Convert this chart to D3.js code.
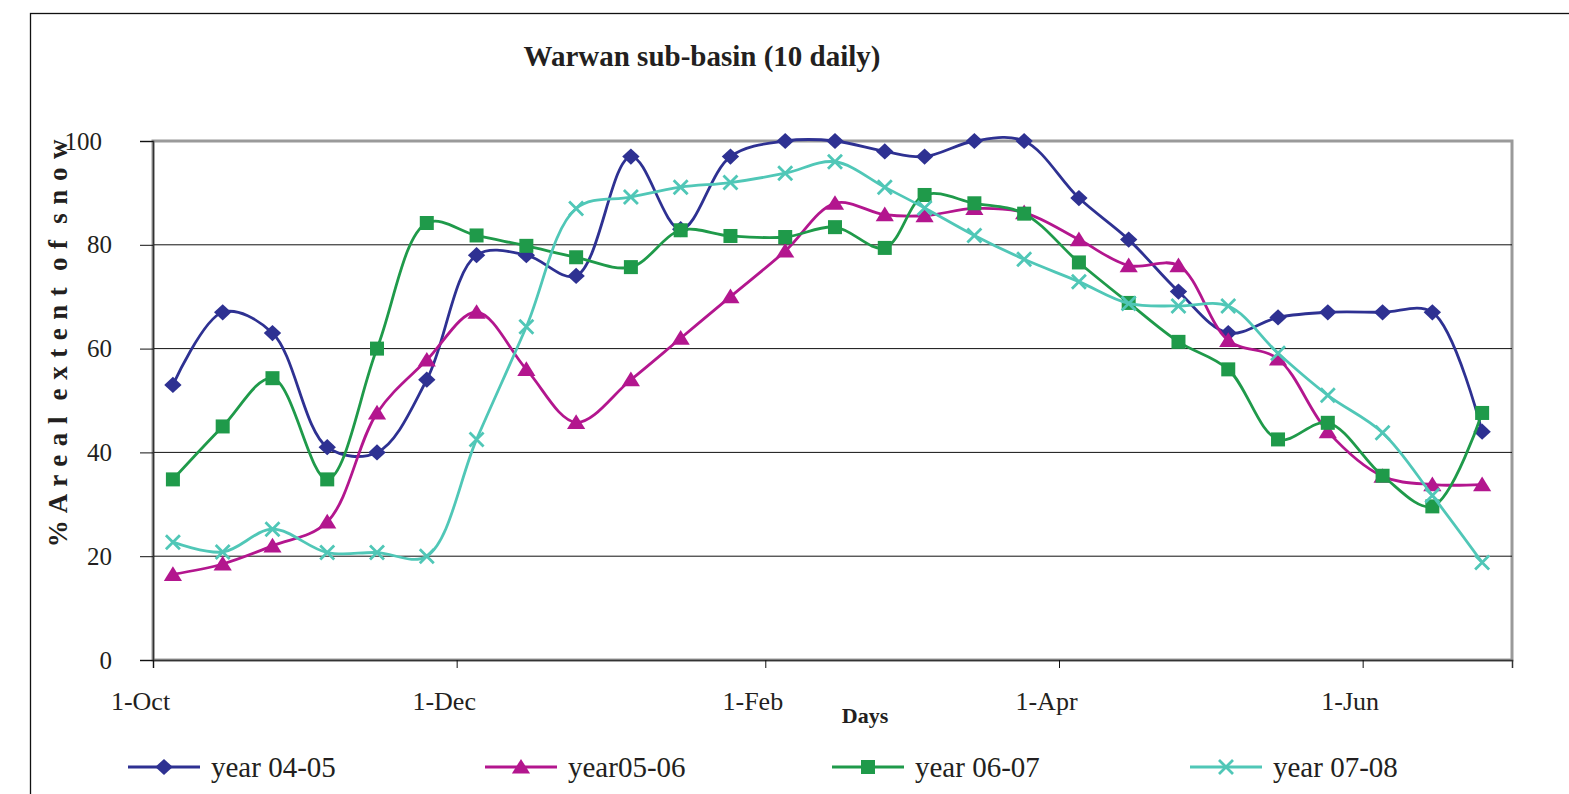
<!DOCTYPE html>
<html><head><meta charset="utf-8">
<script src="https://cdn.jsdelivr.net/npm/d3@7"></script>
<style>
body{margin:0;background:#fff}
svg{display:block}
text{font-family:"Liberation Serif","Times New Roman",serif;fill:#231f20}
</style>
</head><body>
<svg id="c" width="1569" height="794"></svg>
<script>
// ---- data ----
const dates = ["2001-10-05","2001-10-15","2001-10-25","2001-11-05","2001-11-15","2001-11-25",
  "2001-12-05","2001-12-15","2001-12-25","2002-01-05","2002-01-15","2002-01-25",
  "2002-02-05","2002-02-15","2002-02-25","2002-03-05","2002-03-15","2002-03-25",
  "2002-04-05","2002-04-15","2002-04-25","2002-05-05","2002-05-15","2002-05-25",
  "2002-06-05","2002-06-15","2002-06-25"];
const year0405 = [53,67,63,41,40,54,78,78,74,97,83,97,100,100,98,97,100,100,89,81,71,63,66,67,67,67,44];
const year0506 = [16.5,18.5,22,26.6,47.6,57.8,67,56,45.8,54,62,70,78.8,88,85.8,85.6,87,86.2,81,76,76,61.6,58,44,35.4,33.8,33.8];
const year0607 = [34.8,45,54.3,34.8,60,84.2,81.8,79.8,77.6,75.7,82.8,81.7,81.5,83.4,79.4,89.6,88,86,76.6,68.8,61.3,56,42.5,45.7,35.5,29.6,47.6];
const year0708 = [22.7,20.8,25.2,20.7,20.7,20,42.5,64.2,87,89.2,91.1,92,93.8,96,91.1,87.1,81.8,77.2,72.9,68.7,68.2,68.2,59.1,51,43.8,31.7,18.8];
const seriesNames = ["year 04-05","year05-06","year 06-07","year 07-08"];
const seriesColors = ["#2e3192","#b3168e","#1f9a4a","#50c7b7"];
const seriesMarkers = ["diamond","triangle","square","cross"];
const yTicks = [0,20,40,60,80,100];
const xTickDates = ["2001-10-01","2001-12-01","2002-02-01","2002-04-01","2002-06-01"];
const xDomain = ["2001-10-01","2002-07-01"];
const titleText = "Warwan sub-basin (10 daily)";
const yLabel = "% A r e a l  e x t e n t  o f  s n o w";
const xLabel = "Days";

// ---- chart ----
const svg = d3.select("#c");
const L = 153, R = 1512, T = 141, B = 660;
const parse = d3.utcParse("%Y-%m-%d");
const x = d3.scaleUtc().domain(xDomain.map(parse)).range([L, R]);
const y = d3.scaleLinear().domain([0, 100]).range([B, T]);

// outer frame
svg.append("rect").attr("x", 30.5).attr("y", 13.5).attr("width", 1600).attr("height", 900)
  .attr("fill", "none").attr("stroke", "#111").attr("stroke-width", 1.3);

// plot frame (grey)
svg.append("rect").attr("x", L).attr("y", T).attr("width", R - L).attr("height", B - T)
  .attr("fill", "#fff").attr("stroke", "#9a9a9a").attr("stroke-width", 3);

// gridlines
svg.append("g").selectAll("line").data(yTicks.filter(d => d > 0 && d < 100)).join("line")
  .attr("x1", L).attr("x2", R).attr("y1", d => y(d)).attr("y2", d => y(d))
  .attr("stroke", "#111").attr("stroke-width", 1);

// y axis
const yAxis = svg.append("g").attr("transform", `translate(${L},0)`)
  .call(d3.axisLeft(y).tickValues(yTicks).tickSize(13).tickPadding(28).tickFormat(d3.format("d")));
yAxis.select(".domain").attr("stroke", "#333").attr("stroke-width", 1.5);
yAxis.selectAll(".tick line").attr("stroke", "#111");
yAxis.selectAll(".tick text").attr("font-size", 25).attr("fill", "#231f20")
  .attr("font-family", "Liberation Serif, serif")
  .attr("dx", d => d === 100 ? -10 : 0);

// x axis
const xAxis = svg.append("g").attr("transform", `translate(0,${B})`)
  .call(d3.axisBottom(x).tickValues(xTickDates.map(parse)).tickSize(8).tickPadding(24)
    .tickFormat(d3.utcFormat("%-d-%b")));
xAxis.select(".domain").attr("stroke", "#333").attr("stroke-width", 1.5);
xAxis.selectAll(".tick line").attr("stroke", "#111");
xAxis.selectAll(".tick text").attr("font-size", 26).attr("fill", "#231f20")
  .attr("font-family", "Liberation Serif, serif").attr("dx", -13);

// markers
function marker(g, type, color, s) {
  if (type === "diamond") {
    g.append("path").attr("d", `M0,${-s*0.58}L${s*0.62},0L0,${s*0.58}L${-s*0.62},0Z`).attr("fill", color);
  } else if (type === "triangle") {
    g.append("path").attr("d", `M0,${-s*0.58}L${s*0.65},${s*0.47}L${-s*0.65},${s*0.47}Z`).attr("fill", color);
  } else if (type === "square") {
    g.append("rect").attr("x", -s/2).attr("y", -s/2).attr("width", s).attr("height", s).attr("fill", color);
  } else {
    g.append("path").attr("d", `M${-s/2},${-s/2}L${s/2},${s/2}M${s/2},${-s/2}L${-s/2},${s/2}`)
      .attr("stroke", color).attr("stroke-width", 2.8).attr("fill", "none");
  }
}

const allSeries = [year0405, year0506, year0607, year0708];
const pts = dates.map(parse);
const line = d3.line().x((d, i) => x(pts[i])).y(d => y(d)).curve(d3.curveCatmullRom.alpha(0.5));

allSeries.forEach((vals, si) => {
  const g = svg.append("g");
  g.append("path").datum(vals).attr("d", line).attr("fill", "none")
    .attr("stroke", seriesColors[si]).attr("stroke-width", 2.8);
  vals.forEach((v, i) => {
    const mg = g.append("g").attr("transform", `translate(${x(pts[i])},${y(v)})`);
    marker(mg, seriesMarkers[si], seriesColors[si], 14);
  });
});

// title
svg.append("text").attr("x", 702).attr("y", 66).attr("text-anchor", "middle")
  .attr("font-size", 29).attr("font-weight", "bold").text(titleText);

// y label
svg.append("text").attr("transform", "translate(67,343) rotate(-90)").attr("text-anchor", "middle")
  .attr("font-size", 27).attr("font-weight", "bold").attr("letter-spacing", 0.9)
  .style("white-space", "pre").text(yLabel);

// x label
svg.append("text").attr("x", 865).attr("y", 723).attr("text-anchor", "middle")
  .attr("font-size", 22).attr("font-weight", "bold").text(xLabel);

// legend
const legX = [128, 485, 832, 1190];
const legY = 767;
seriesNames.forEach((n, i) => {
  const g = svg.append("g").attr("transform", `translate(${legX[i]},${legY})`);
  g.append("line").attr("x1", 0).attr("x2", 72).attr("stroke", seriesColors[i]).attr("stroke-width", 2.8);
  const mg = g.append("g").attr("transform", "translate(36,0)");
  marker(mg, seriesMarkers[i], seriesColors[i], 14);
  g.append("text").attr("x", 83).attr("y", 10).attr("font-size", 29).text(n);
});
</script>
</body></html>
